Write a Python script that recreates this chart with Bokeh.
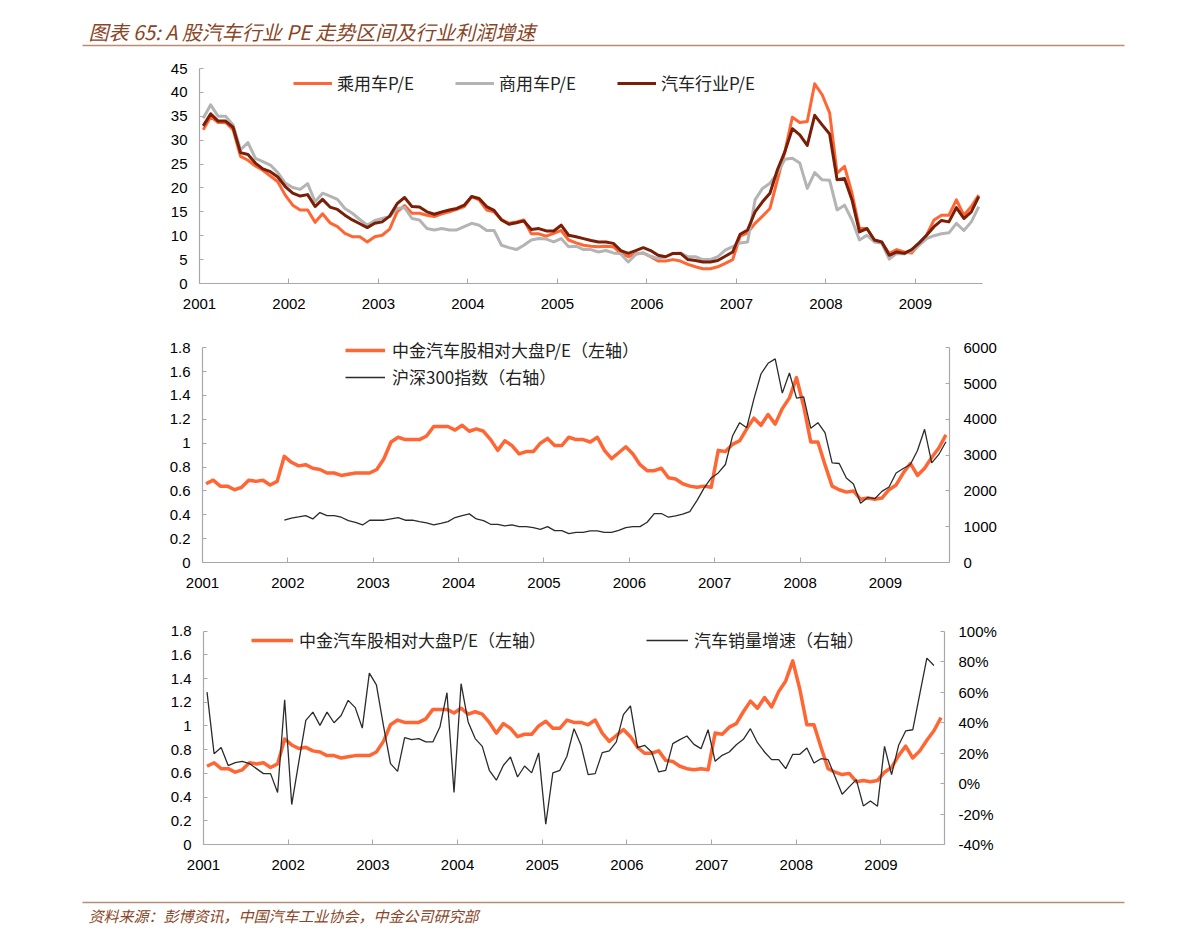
from bokeh.plotting import figure
from bokeh.models import (Range1d, LinearAxis, FixedTicker, Legend, LegendItem,
                          NumeralTickFormatter, PrintfTickFormatter, Label)
from bokeh.layouts import column
from bokeh.embed import file_html
from bokeh.resources import INLINE

# ---------------- data (monthly, 2001-01 .. 2009-09) ----------------
years = ["2001", "2002", "2003", "2004", "2005", "2006", "2007", "2008", "2009"]
n_months = 105

car_pe = [32.2, 34.9, 33.7, 33.7, 32.2, 26.6, 25.8, 24.6, 23.7, 22.5, 21.3, 18.5, 16.4, 15.4, 15.4,
          12.8, 14.6, 12.7, 11.9, 10.5, 9.8, 9.8, 8.7, 9.8, 10.1, 11.4, 15.0, 16.3, 14.7, 14.7,
          14.3, 14.0, 14.6, 15.0, 15.5, 16.1, 18.2, 17.5, 15.4, 15.0, 13.4, 12.6, 12.9, 13.3, 10.4,
          10.4, 9.9, 10.5, 11.1,
          9.1, 8.5, 8.0, 7.8, 7.7, 7.8, 7.7, 6.3, 5.6, 6.2, 6.4, 5.6, 4.7, 4.7, 5.0, 4.7, 4.0, 3.5,
          3.1, 3.1, 3.5, 4.2, 5.0, 9.9, 10.6, 12.6, 14.1, 15.7, 21.7, 27.6, 34.8, 33.7, 33.9, 41.8,
          39.5, 35.7, 23.1, 24.5, 18.9, 11.5, 11.5, 9.1, 8.5, 6.3, 7.1, 6.6, 6.4, 8.2, 10.1, 13.3,
          14.3, 14.3, 17.5, 14.3, 16.1, 18.5]

cv_pe = [34.6, 37.4, 35.0, 35.0, 33.2, 28.0, 29.5, 26.2, 25.5, 24.8, 23.2, 21.0, 20.1, 19.7, 20.9,
         17.1, 18.9, 18.3, 17.6, 15.7, 14.7, 13.4, 12.2, 13.2, 13.6, 14.0, 15.7, 15.9, 13.6, 13.3,
         11.5, 11.2, 11.5, 11.2, 11.2, 11.9, 12.6, 12.2, 11.1, 11.1, 8.0, 7.5, 7.1, 8.0, 9.1,
         9.4, 9.3, 8.7, 9.4,
         7.7, 7.8, 7.1, 7.1, 6.6, 6.9, 6.4, 6.2, 4.5, 6.1, 6.4, 5.7, 5.2, 5.6, 6.3, 6.4, 5.6, 5.6,
         5.0, 5.0, 5.6, 7.0, 7.7, 8.5, 8.7, 17.5, 19.9, 21.0, 23.1, 26.0, 26.2, 25.2, 19.9, 23.2,
         21.7, 21.6, 15.4, 16.4, 13.3, 9.1, 10.1, 8.7, 8.4, 5.1, 6.3, 6.2, 6.8, 8.0, 9.4, 10.0,
         10.4, 10.6, 12.6, 11.1, 12.9, 16.1]

auto_pe = [33.0, 35.5, 34.0, 34.0, 32.7, 27.4, 27.0, 25.2, 24.0, 23.4, 22.3, 20.3, 18.9, 18.3, 18.6,
           16.1, 17.6, 16.0, 15.5, 14.3, 13.3, 12.5, 11.7, 12.6, 12.9, 14.1, 16.7, 18.0, 16.1, 16.0,
           15.0, 14.5, 15.0, 15.4, 15.7, 16.4, 18.2, 17.8, 16.1, 15.3, 13.3, 12.4, 12.7, 13.1, 11.3,
           11.5, 11.0, 11.0, 12.2,
           10.1, 9.8, 9.4, 9.0, 8.7, 8.7, 8.4, 6.9, 6.3, 6.9, 7.5, 6.9, 5.9, 5.6, 6.3, 6.3, 5.0, 4.8,
           4.5, 4.5, 4.8, 5.7, 6.6, 10.3, 11.2, 15.0, 17.1, 18.9, 23.8, 27.6, 32.4, 31.1, 28.9, 35.2,
           33.2, 31.3, 21.7, 22.0, 17.5, 10.8, 11.5, 9.1, 8.7, 5.9, 6.6, 6.3, 7.1, 8.5, 10.1, 11.9,
           13.2, 12.9, 15.9, 13.6, 15.0, 18.2]

rel_pe = [0.66, 0.69, 0.64, 0.64, 0.61, 0.63, 0.69, 0.68, 0.69, 0.65, 0.68, 0.89, 0.84, 0.81, 0.82,
          0.79, 0.78, 0.75, 0.75, 0.73, 0.74, 0.75, 0.75, 0.75, 0.78, 0.87, 1.01, 1.05, 1.03, 1.03,
          1.03, 1.06, 1.14, 1.14, 1.14, 1.11, 1.15, 1.10, 1.12, 1.10, 1.03, 0.94, 1.02, 0.98, 0.91,
          0.93, 0.93, 1.00, 1.04, 0.98, 0.98, 1.05, 1.03,
          1.03, 1.01, 1.05, 0.94, 0.87, 0.92, 0.97, 0.91, 0.82, 0.77, 0.77, 0.79, 0.71, 0.70, 0.66,
          0.64, 0.63, 0.64, 0.63, 0.94, 0.93, 0.99, 1.02, 1.12, 1.21, 1.15, 1.24, 1.16, 1.29, 1.38,
          1.55, 1.31, 1.01, 1.01, 0.82, 0.64, 0.61, 0.59, 0.60, 0.53, 0.54, 0.53, 0.54, 0.61, 0.65,
          0.75, 0.83, 0.73, 0.79, 0.88, 0.96, 1.07]

hs300_start = 11  # series begins 2001-12
hs300 = [1181, 1237, 1274, 1312, 1218, 1396, 1312, 1312, 1265, 1171, 1124, 1050, 1181, 1181, 1181,
         1218, 1256, 1181, 1181, 1143, 1106, 1050, 1096, 1143, 1256, 1312, 1359, 1218, 1171, 1068,
         1068, 1021, 1050, 1003, 1003, 975, 928, 1003, 890, 890, 806, 843, 843, 881, 881, 843, 843,
         900, 975, 1003, 1003, 1124, 1368, 1368, 1265, 1303, 1349, 1424, 1730, 2080,
         2361, 2502, 2738, 3533, 3907, 3767, 4565, 5267, 5566, 5689, 4733, 5296, 4593, 4630, 3750,
         3907, 3626, 2783, 2766, 2361, 2193, 1658, 1819, 1782, 1987, 2108, 2502, 2625, 2738, 3131,
         3722, 2783, 3019, 3373]

sales_growth = [60, 19.6, 23.6, 11.8, 13.7, 14.6, 13.1, 9.8, 6.5, 6.5, -5.9, 55, -13.8, 14, 41.5,
                46.9, 38.2, 46.9, 39.9, 44.7, 54.6, 49.8, 36.4, 72.5, 64.8, 38, 13.1, 8.0, 30.1,
                28.8, 29.5, 27.3, 27.3, 37.1, 59.6, -5.9, 65.5, 40.4, 29.5, 24.4, 8.7, 2.2, 12,
                17.4, 4.3, 11.5, 7, 20.1, -26.7, 7, 8.7, 17.9, 36,
                25.1, 5.9, 6.5, 20.3, 21.4, 27.3, 45.2, 50.9, 23.6, 25.1, 20.7, 7.6, 8.7, 26.2, 28.8,
                31.2, 25.7, 22.9, 35.3, 14.6, 18.5, 20.7, 25.5, 29, 36, 26.8, 20.7, 15.7, 15.7, 9.8,
                19.2, 19.2, 23.3, 13.5, 16.3, 15.7, 4.3, -7, -2.2, 2.6, -14.7, -11.4, -14.9, 24.4,
                5.9, 25.1, 34.5, 35.3, 58.9, 82.3, 77.5]

pe_ticks = [0, 5, 10, 15, 20, 25, 30, 35, 40, 45]
rel_ticks = [0, 0.2, 0.4, 0.6, 0.8, 1, 1.2, 1.4, 1.6, 1.8]
hs_ticks = [0, 1000, 2000, 3000, 4000, 5000, 6000]
pct_ticks = [-40, -20, 0, 20, 40, 60, 80, 100]

title_text = "图表 65: A 股汽车行业 PE 走势区间及行业利润增速"
source_text = "资料来源：彭博资讯，中国汽车工业协会，中金公司研究部"

# ---------------- style ----------------
ORANGE = "#FF6633"
GRAY = "#B4B4B4"
DARK = "#7A1E08"
BLACK = "#2B2B2B"
AXIS = "#A8A8A8"
BROWN = "#8A4526"
RULE = "#B98C74"
CJK = "Noto Sans CJK SC"
NUM = "Liberation Sans"
W = 1183

x = [i + 0.5 for i in range(n_months)]
year_ticks = [12 * k for k in range(len(years))]
year_labels = {12 * k: y for k, y in enumerate(years)}


def style_axis(ax, standoff=12):
    ax.axis_line_color = AXIS
    ax.axis_line_width = 1.2
    ax.major_tick_line_color = AXIS
    ax.major_tick_in = 4
    ax.major_tick_out = 0
    ax.minor_tick_line_color = None
    ax.major_label_text_font = NUM
    ax.major_label_text_font_size = "15px"
    ax.major_label_text_color = "#000000"
    ax.major_label_standoff = standoff


def panel(height, left, right, top, bottom, yr, ybounds, yticks):
    p = figure(width=W, height=height, output_backend="svg", toolbar_location=None,
               x_range=Range1d(0, n_months), y_range=Range1d(*yr),
               min_border_left=left, min_border_right=right,
               min_border_top=top, min_border_bottom=bottom, frame_align=False)
    p.outline_line_color = None
    p.xgrid.visible = False
    p.ygrid.visible = False
    p.xaxis.ticker = FixedTicker(ticks=year_ticks)
    p.xaxis.major_label_overrides = year_labels
    p.yaxis.ticker = FixedTicker(ticks=yticks)
    p.yaxis.bounds = ybounds
    style_axis(p.xaxis[0], 15)
    style_axis(p.yaxis[0], 12)
    p.xaxis.major_tick_in = 5
    return p


def legend(items, loc, orientation, spacing, glyph_w, standoff):
    return Legend(items=items, location=loc, orientation=orientation, spacing=spacing,
                  glyph_width=glyph_w, glyph_height=20, label_height=20,
                  label_standoff=standoff, padding=0, margin=0,
                  border_line_color=None, background_fill_alpha=0,
                  label_text_font=CJK, label_text_font_size="17px", label_text_color="#222222")


# ---------------- title ----------------
pt = figure(width=W, height=60, output_backend="svg", toolbar_location=None,
            x_range=Range1d(0, W), y_range=Range1d(0, 60), x_axis_type=None, y_axis_type=None,
            min_border=0, frame_align=False)
pt.outline_line_color = None
pt.grid.visible = False
pt.add_layout(Label(x=88, y=29, text=title_text, text_font=CJK, text_font_size="20px",
                    text_font_style="italic", text_color=BROWN, text_baseline="middle"))
pt.segment(x0=[82], y0=[15], x1=[1124], y1=[15], line_color=RULE, line_width=1.6)

# ---------------- panel 1 ----------------
p1 = panel(265, 199, 201, 8, 42, (0, 45), (0, 45), pe_ticks)
r_car = p1.line(x, car_pe, line_color=ORANGE, line_width=3, line_join="round")
r_cv = p1.line(x, cv_pe, line_color=GRAY, line_width=3, line_join="round")
r_auto = p1.line(x, auto_pe, line_color=DARK, line_width=3, line_join="round")
p1.add_layout(legend([LegendItem(label="乘用车P/E", renderers=[r_car]),
                      LegendItem(label="商用车P/E", renderers=[r_cv]),
                      LegendItem(label="汽车行业P/E", renderers=[r_auto])],
                     (94, 188), "horizontal", 41, 39, 5))

# ---------------- panel 2 ----------------
p2 = panel(282, 202, 234, 4, 45, (0, 1.953), (0, 1.8), rel_ticks)
p2.yaxis.formatter = NumeralTickFormatter(format="0.[0]")
p2.extra_y_ranges = {"hs": Range1d(0, 6510)}
ax2 = LinearAxis(y_range_name="hs", ticker=FixedTicker(ticks=hs_ticks), bounds=(0, 6000))
style_axis(ax2, 14)
p2.add_layout(ax2, "right")
r_rel2 = p2.line(x, rel_pe, line_color=ORANGE, line_width=3.5, line_join="round")
r_hs = p2.line(x[hs300_start:], hs300, line_color=BLACK, line_width=1.3, y_range_name="hs")
p2.add_layout(legend([LegendItem(label="中金汽车股相对大盘P/E（左轴）", renderers=[r_rel2]),
                      LegendItem(label="沪深300指数（右轴）", renderers=[r_hs])],
                     (143, 173), "vertical", 2, 40, 7))

# ---------------- panel 3 ----------------
p3 = panel(283, 203, 239, 4, 46, (0, 1.966), (0, 1.8), rel_ticks)
p3.yaxis.formatter = NumeralTickFormatter(format="0.[0]")
p3.extra_y_ranges = {"pct": Range1d(-40, 112.9)}
ax3 = LinearAxis(y_range_name="pct", ticker=FixedTicker(ticks=pct_ticks), bounds=(-40, 100),
                 formatter=PrintfTickFormatter(format="%d%%"))
style_axis(ax3, 14)
p3.add_layout(ax3, "right")
r_rel3 = p3.line(x, rel_pe, line_color=ORANGE, line_width=3.5, line_join="round")
r_sales = p3.line(x[:len(sales_growth)], sales_growth, line_color=BLACK, line_width=1.3,
                  y_range_name="pct")
p3.add_layout(legend([LegendItem(label="中金汽车股相对大盘P/E（左轴）", renderers=[r_rel3]),
                      LegendItem(label="汽车销量增速（右轴）", renderers=[r_sales])],
                     (48, 192), "horizontal", 100, 42, 6))

# ---------------- footer ----------------
pf = figure(width=W, height=40, output_backend="svg", toolbar_location=None,
            x_range=Range1d(0, W), y_range=Range1d(0, 40), x_axis_type=None, y_axis_type=None,
            min_border=0, frame_align=False)
pf.outline_line_color = None
pf.grid.visible = False
pf.segment(x0=[82], y0=[28], x1=[1124], y1=[28], line_color=RULE, line_width=1.6)
pf.add_layout(Label(x=88, y=15, text=source_text, text_font=CJK, text_font_size="15px",
                    text_font_style="italic", text_color=BROWN, text_baseline="middle"))

layout = column(pt, p1, p2, p3, pf, spacing=0)
open("out.html", "w").write(file_html(layout, INLINE))
